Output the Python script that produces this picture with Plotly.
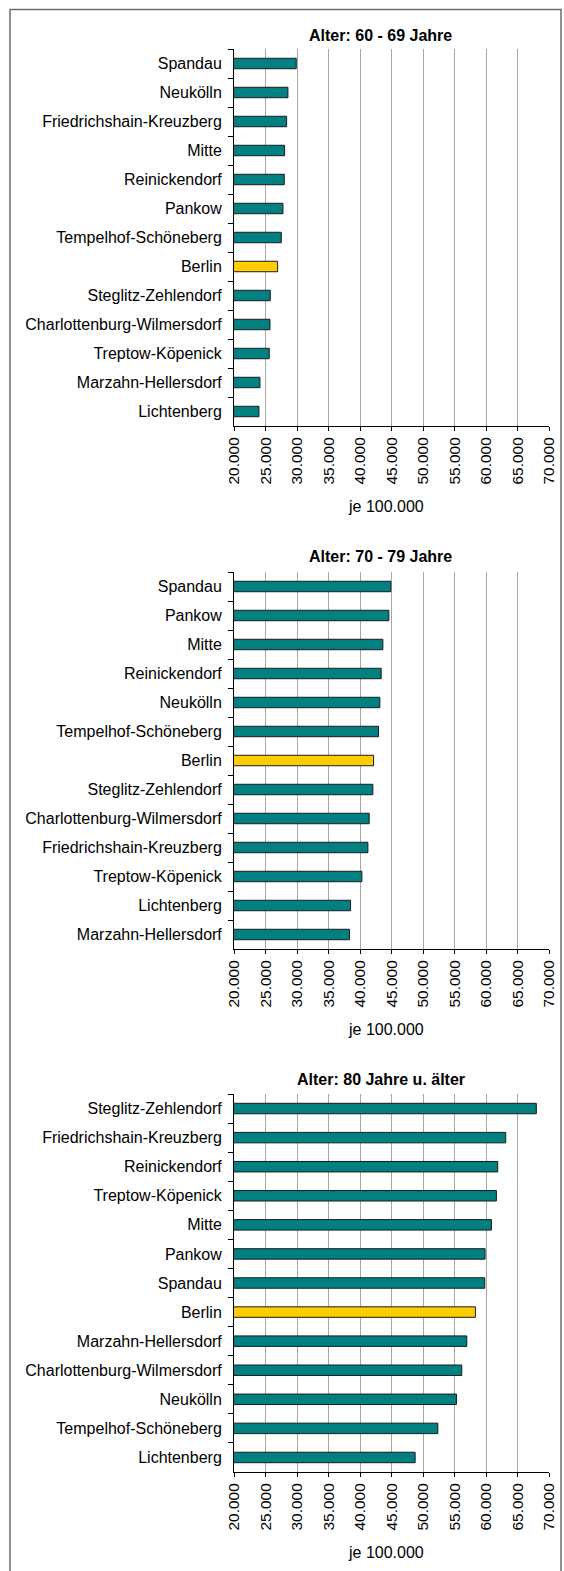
import plotly.graph_objects as go

# ---------------- data ----------------
districts_60_69 = ["Spandau", "Neukölln", "Friedrichshain-Kreuzberg", "Mitte", "Reinickendorf",
                   "Pankow", "Tempelhof-Schöneberg", "Berlin", "Steglitz-Zehlendorf",
                   "Charlottenburg-Wilmersdorf", "Treptow-Köpenick", "Marzahn-Hellersdorf", "Lichtenberg"]
values_60_69 = [29880, 28560, 28350, 28030, 27980, 27770, 27500, 26920, 25760, 25710, 25600, 24120, 23960]

districts_70_79 = ["Spandau", "Pankow", "Mitte", "Reinickendorf", "Neukölln", "Tempelhof-Schöneberg",
                   "Berlin", "Steglitz-Zehlendorf", "Charlottenburg-Wilmersdorf",
                   "Friedrichshain-Kreuzberg", "Treptow-Köpenick", "Lichtenberg", "Marzahn-Hellersdorf"]
values_70_79 = [44890, 44580, 43630, 43360, 43150, 42940, 42150, 42040, 41460, 41250, 40300, 38500, 38340]

districts_80 = ["Steglitz-Zehlendorf", "Friedrichshain-Kreuzberg", "Reinickendorf", "Treptow-Köpenick",
                "Mitte", "Pankow", "Spandau", "Berlin", "Marzahn-Hellersdorf",
                "Charlottenburg-Wilmersdorf", "Neukölln", "Tempelhof-Schöneberg", "Lichtenberg"]
values_80 = [67990, 63130, 61860, 61650, 60860, 59850, 59800, 58320, 56950, 56150, 55310, 52350, 48750]

titles = ["Alter: 60 - 69 Jahre", "Alter: 70 - 79 Jahre", "Alter: 80 Jahre u. älter"]
x_axis_title = "je 100.000"
x_min, x_max, x_step = 20000, 70000, 5000

# ---------------- layout helpers ----------------
W, H = 564, 1571
def fx(px):
    return px / W
def fy(px):
    return 1 - px / H

plot_left, plot_right = 234, 549
panel_px = [(49, 426), (572, 949), (1094, 1472)]  # (top, bottom) in pixels
title_y_px = [35, 556, 1079]

FONT = "Liberation Sans, Arial, sans-serif"
TEAL = "#008080"
GOLD = "#FFCC00"

fig = go.Figure()
panels = [(districts_60_69, values_60_69), (districts_70_79, values_70_79), (districts_80, values_80)]

layout_axes = {}
annotations = []
for i, (cats, vals) in enumerate(panels):
    n = "" if i == 0 else str(i + 1)
    colors = [GOLD if c == "Berlin" else TEAL for c in cats]
    fig.add_trace(go.Bar(
        x=vals, y=cats, orientation="h",
        marker=dict(color=colors, line=dict(color="#1a1a1a", width=1)),
        width=0.36, xaxis="x" + n, yaxis="y" + n, showlegend=False,
    ))
    top, bottom = panel_px[i]
    layout_axes["xaxis" + n] = dict(
        domain=[fx(plot_left), fx(plot_right)], anchor="y" + n,
        range=[x_min, x_max], tick0=x_min, dtick=x_step, tickformat=",.0f",
        tickangle=-90, showgrid=True, gridcolor="#a6a6a6", gridwidth=1,
        showline=True, linecolor="black", linewidth=1,
        ticks="outside", ticklen=4, tickcolor="black",
        zeroline=False, fixedrange=True, automargin=False,
        tickfont=dict(family=FONT, size=15.5, color="black"),
    )
    layout_axes["yaxis" + n] = dict(
        domain=[fy(bottom), fy(top)], anchor="x" + n,
        type="category", autorange="reversed",
        tickson="boundaries", ticks="outside", ticklen=5, tickcolor="black",
        ticklabelstandoff=8,
        showline=True, linecolor="black", linewidth=1,
        showgrid=False, zeroline=False, fixedrange=True, automargin=False,
        tickfont=dict(family=FONT, size=16, color="black"),
    )
    annotations.append(dict(
        text="<b>" + titles[i] + "</b>", x=fx(381), y=fy(title_y_px[i]),
        xref="paper", yref="paper", xanchor="center", yanchor="middle",
        showarrow=False, font=dict(family=FONT, size=16, color="black"),
    ))
    annotations.append(dict(
        text=x_axis_title, x=fx(386), y=fy(bottom + 80),
        xref="paper", yref="paper", xanchor="center", yanchor="middle",
        showarrow=False, font=dict(family=FONT, size=16, color="black"),
    ))

fig.update_layout(
    width=W, height=H,
    margin=dict(l=0, r=0, t=0, b=0, pad=0, autoexpand=False),
    paper_bgcolor="white", plot_bgcolor="white",
    separators=",.",
    bargap=0.64,
    annotations=annotations,
    shapes=[dict(type="rect", xref="paper", yref="paper",
                 x0=fx(10), x1=fx(561), y0=fy(1600), y1=fy(9.5),
                 line=dict(color="#6e6e6e", width=1.5))],
    **layout_axes,
)

fig.write_html(
    "out.html",
    config={"displayModeBar": False, "staticPlot": True},
    post_script="document.body.style.margin='0';document.body.style.overflow='hidden';"
                "document.documentElement.style.overflow='hidden';",
)
